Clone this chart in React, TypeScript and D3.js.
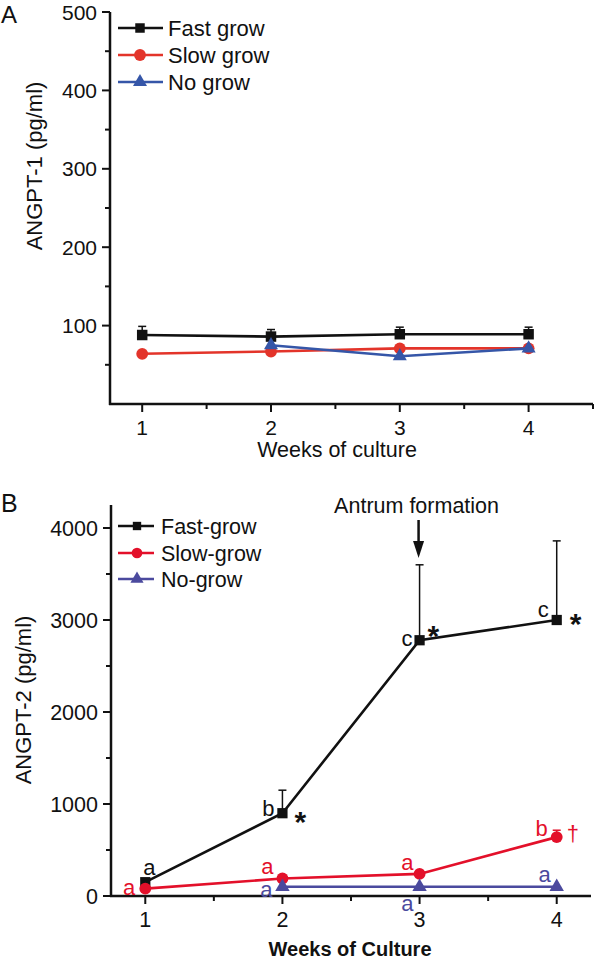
import React from "react";
import * as d3 from "d3";

// ---------- Data ----------
const weeks = [1, 2, 3, 4];

// Panel A: ANGPT-1 (pg/ml)
const aFast = [88, 86, 89, 89];
const aFastErr = [11, 9, 9, 9];
const aSlow = [64, 67, 71, 71];
const aNo: (number | null)[] = [null, 75, 61, 71];
const aLegend = ["Fast grow", "Slow grow", "No grow"];
const aYTicks = [100, 200, 300, 400, 500];
const aYMinor = [50, 150, 250, 350, 450];
const aXTicks = [1, 2, 3, 4];
const aXMinor = [1.5, 2.5, 3.5, 4.5];

// Panel B: ANGPT-2 (pg/ml)
const bFast = [150, 900, 2780, 3000];
const bFastErr = [0, 250, 820, 860];
const bSlow = [80, 190, 240, 640];
const bSlowErr = [0, 0, 0, 75];
const bNo: (number | null)[] = [null, 100, 100, 100];
const bLegend = ["Fast-grow", "Slow-grow", "No-grow"];
const bYTicks = [0, 1000, 2000, 3000, 4000];
const bYMinor = [500, 1500, 2500, 3500];
const bXTicks = [1, 2, 3, 4];
const bXMinor = [1.5, 2.5, 3.5];
const bFastLetters: (string | null)[] = ["a", "b", "c", "c"];
const bSlowLetters: (string | null)[] = ["a", "a", "a", "b"];
const bNoLetters: (string | null)[] = [null, "a", "a", "a"];
const bFastStars: (string | null)[] = [null, "*", "*", "*"];
const bSlowDaggers: (string | null)[] = [null, null, null, "†"];
const antrumWeek = 3;
const antrumLabel = "Antrum formation";

// ---------- Layout / style ----------
const FONT = "'Liberation Sans', Arial, Helvetica, sans-serif";
const W = 596;
const H = 963;

const colA = { fast: "#111111", slow: "#e3342a", no: "#3556a8" };
const colB = { fast: "#111111", slow: "#e3102a", no: "#4b4a9e" };

// letter offsets (pixel) relative to the marker: [dx, dy(baseline)]
const fastLetterOff = [[4, -7], [-8, 3], [-7, 6], [-8, -3]];
const slowLetterOff = [[-10, 6], [-9, -5], [-6, -4], [-9, -1]];
const noLetterOff = [[0, 0], [-10, 10], [-6, 24], [-6, -5]];
const starOff = [[0, 0], [12, 19], [8, 6], [13, 14]];
const daggerOff = [[0, 0], [0, 0], [0, 0], [10, 4]];

const sym = (type: d3.SymbolType, size: number) => d3.symbol().type(type).size(size)() as string;

function Series({ xs, ys, x, y, color, type, size, err }: any) {
  const pts = xs
    .map((w: number, i: number) => ({ w, v: ys[i], e: err ? err[i] : 0 }))
    .filter((p: any) => p.v !== null && p.v !== undefined);
  const line = d3
    .line<any>()
    .x((p) => x(p.w))
    .y((p) => y(p.v));
  return (
    <g>
      {pts.map((p: any, i: number) =>
        p.e > 0 ? (
          <g key={"e" + i} stroke={color} strokeWidth={1.5}>
            <line x1={x(p.w)} x2={x(p.w)} y1={y(p.v)} y2={y(p.v + p.e)} />
            <line x1={x(p.w) - 4} x2={x(p.w) + 4} y1={y(p.v + p.e)} y2={y(p.v + p.e)} />
          </g>
        ) : null
      )}
      <path d={line(pts) as string} fill="none" stroke={color} strokeWidth={2.6} />
      {pts.map((p: any, i: number) => (
        <path key={"m" + i} d={sym(type, size)} transform={`translate(${x(p.w)},${y(p.v)})`} fill={color} />
      ))}
    </g>
  );
}

function Axes({ x, y, yTicks, yMinor, xTicks, xMinor, xLabelBase, fontSize }: any) {
  const [x0, x1] = x.range();
  const [y0, y1] = y.range();
  return (
    <g fontFamily={FONT} fill="#111">
      <line x1={x0} x2={x0} y1={y0 + 1} y2={y1} stroke="#111" strokeWidth={2.5} />
      <line x1={x0 - 1} x2={x1} y1={y0} y2={y0} stroke="#111" strokeWidth={2.5} />
      {yTicks.map((t: number) => (
        <g key={"yt" + t}>
          <line x1={x0 - 8} x2={x0} y1={y(t)} y2={y(t)} stroke="#111" strokeWidth={2} />
          <text x={x0 - 13} y={y(t) + fontSize * 0.36} textAnchor="end" fontSize={fontSize}>
            {t}
          </text>
        </g>
      ))}
      {yMinor.map((t: number) => (
        <line key={"ym" + t} x1={x0 - 5} x2={x0} y1={y(t)} y2={y(t)} stroke="#111" strokeWidth={2} />
      ))}
      {xTicks.map((t: number) => (
        <g key={"xt" + t}>
          <line x1={x(t)} x2={x(t)} y1={y0} y2={y0 + 8} stroke="#111" strokeWidth={2} />
          <text x={x(t)} y={xLabelBase} textAnchor="middle" fontSize={fontSize}>
            {t}
          </text>
        </g>
      ))}
      {xMinor.map((t: number) => (
        <line key={"xm" + t} x1={x(t)} x2={x(t)} y1={y0} y2={y0 + 5} stroke="#111" strokeWidth={2} />
      ))}
    </g>
  );
}

function Legend({ labels, colors, types, sizes, x0, x1, xm, xt, ys, fontSize }: any) {
  return (
    <g fontFamily={FONT}>
      {labels.map((l: string, i: number) => (
        <g key={l}>
          <line x1={x0} x2={x1} y1={ys[i]} y2={ys[i]} stroke={colors[i]} strokeWidth={2.5} />
          <path d={sym(types[i], sizes[i])} transform={`translate(${xm},${ys[i]})`} fill={colors[i]} />
          <text x={xt} y={ys[i] + fontSize * 0.36} fontSize={fontSize} fill="#111">
            {l}
          </text>
        </g>
      ))}
    </g>
  );
}

export default function App() {
  const xA = d3.scaleLinear().domain([0.75, 4.5]).range([110, 593]);
  const yA = d3.scaleLinear().domain([0, 500]).range([404, 12]);
  const xB = d3.scaleLinear().domain([0.75, 4.25]).range([111, 591]);
  const yB = d3.scaleLinear().domain([0, 4250]).range([896, 505]);

  const ax = xB(antrumWeek);

  return (
    <svg
      width={W}
      height={H}
      viewBox={`0 0 ${W} ${H}`}
      style={{ position: "absolute", left: 0, top: 0, background: "#fff" }}
    >
      <rect width={W} height={H} fill="#fff" />
      {/* ---------- Panel A ---------- */}
      <text x={1} y={23} fontFamily={FONT} fontSize={24} fill="#111">
        A
      </text>
      <Axes x={xA} y={yA} yTicks={aYTicks} yMinor={aYMinor} xTicks={aXTicks} xMinor={aXMinor} xLabelBase={435} fontSize={21} />
      <text
        transform="translate(42,166) rotate(-90)"
        textAnchor="middle"
        fontFamily={FONT}
        fontSize={22}
        fill="#111"
      >
        ANGPT-1 (pg/ml)
      </text>
      <text x={337} y={457} textAnchor="middle" fontFamily={FONT} fontSize={21.5} fill="#111">
        Weeks of culture
      </text>
      <Series xs={weeks} ys={aFast} err={aFastErr} x={xA} y={yA} color={colA.fast} type={d3.symbolSquare} size={110} />
      <Series xs={weeks} ys={aSlow} x={xA} y={yA} color={colA.slow} type={d3.symbolCircle} size={110} />
      <Series xs={weeks} ys={aNo} x={xA} y={yA} color={colA.no} type={d3.symbolTriangle} size={85} />
      <Legend
        labels={aLegend}
        colors={[colA.fast, colA.slow, colA.no]}
        types={[d3.symbolSquare, d3.symbolCircle, d3.symbolTriangle]}
        sizes={[90, 110, 85]}
        x0={118}
        x1={163}
        xm={140}
        xt={168}
        ys={[28, 55, 82]}
        fontSize={22}
      />

      {/* ---------- Panel B ---------- */}
      <text x={1} y={512} fontFamily={FONT} fontSize={25} fill="#111">
        B
      </text>
      <Axes x={xB} y={yB} yTicks={bYTicks} yMinor={bYMinor} xTicks={bXTicks} xMinor={bXMinor} xLabelBase={927} fontSize={21.5} />
      <text
        transform="translate(31,700) rotate(-90)"
        textAnchor="middle"
        fontFamily={FONT}
        fontSize={22}
        fill="#111"
      >
        ANGPT-2 (pg/ml)
      </text>
      <text x={350} y={956} textAnchor="middle" fontFamily={FONT} fontSize={20} fontWeight="bold" fill="#111">
        Weeks of Culture
      </text>
      <Series xs={weeks} ys={bFast} err={bFastErr} x={xB} y={yB} color={colB.fast} type={d3.symbolSquare} size={105} />
      <Series xs={weeks} ys={bSlow} err={bSlowErr} x={xB} y={yB} color={colB.slow} type={d3.symbolCircle} size={110} />
      <Series xs={weeks} ys={bNo} x={xB} y={yB} color={colB.no} type={d3.symbolTriangle} size={90} />

      {/* annotation letters */}
      <g fontFamily={FONT} fontSize={22}>
        {weeks.map((w, i) =>
          bFastLetters[i] ? (
            <text key={"fl" + i} x={xB(w) + fastLetterOff[i][0]} y={yB(bFast[i]) + fastLetterOff[i][1]} textAnchor={i === 0 ? "middle" : "end"} fill={colB.fast}>
              {bFastLetters[i]}
            </text>
          ) : null
        )}
        {weeks.map((w, i) =>
          bSlowLetters[i] ? (
            <text key={"sl" + i} x={xB(w) + slowLetterOff[i][0]} y={yB(bSlow[i]) + slowLetterOff[i][1]} textAnchor="end" fill={colB.slow}>
              {bSlowLetters[i]}
            </text>
          ) : null
        )}
        {weeks.map((w, i) =>
          bNoLetters[i] && bNo[i] !== null ? (
            <text key={"nl" + i} x={xB(w) + noLetterOff[i][0]} y={yB(bNo[i] as number) + noLetterOff[i][1]} textAnchor="end" fill={colB.no}>
              {bNoLetters[i]}
            </text>
          ) : null
        )}
        {weeks.map((w, i) =>
          bFastStars[i] ? (
            <text key={"st" + i} x={xB(w) + starOff[i][0]} y={yB(bFast[i]) + starOff[i][1]} fontSize={30} fontWeight="bold" fill="#111">
              {bFastStars[i]}
            </text>
          ) : null
        )}
        {weeks.map((w, i) =>
          bSlowDaggers[i] ? (
            <text key={"dg" + i} x={xB(w) + daggerOff[i][0]} y={yB(bSlow[i]) + daggerOff[i][1]} fill={colB.slow}>
              {bSlowDaggers[i]}
            </text>
          ) : null
        )}
      </g>

      {/* antrum formation arrow */}
      <text x={ax - 3} y={513} textAnchor="middle" fontFamily={FONT} fontSize={21.5} fill="#111">
        {antrumLabel}
      </text>
      <line x1={ax - 1} x2={ax - 1} y1={520} y2={545} stroke="#111" strokeWidth={2.5} />
      <path d={`M${ax - 6.5},${541} L${ax + 4.5},${541} L${ax - 1},${558} Z`} fill="#111" />

      <Legend
        labels={bLegend}
        colors={[colB.fast, colB.slow, colB.no]}
        types={[d3.symbolSquare, d3.symbolCircle, d3.symbolTriangle]}
        sizes={[70, 90, 75]}
        x0={118}
        x1={154}
        xm={137}
        xt={161}
        ys={[526, 553, 579]}
        fontSize={21.5}
      />
    </svg>
  );
}
